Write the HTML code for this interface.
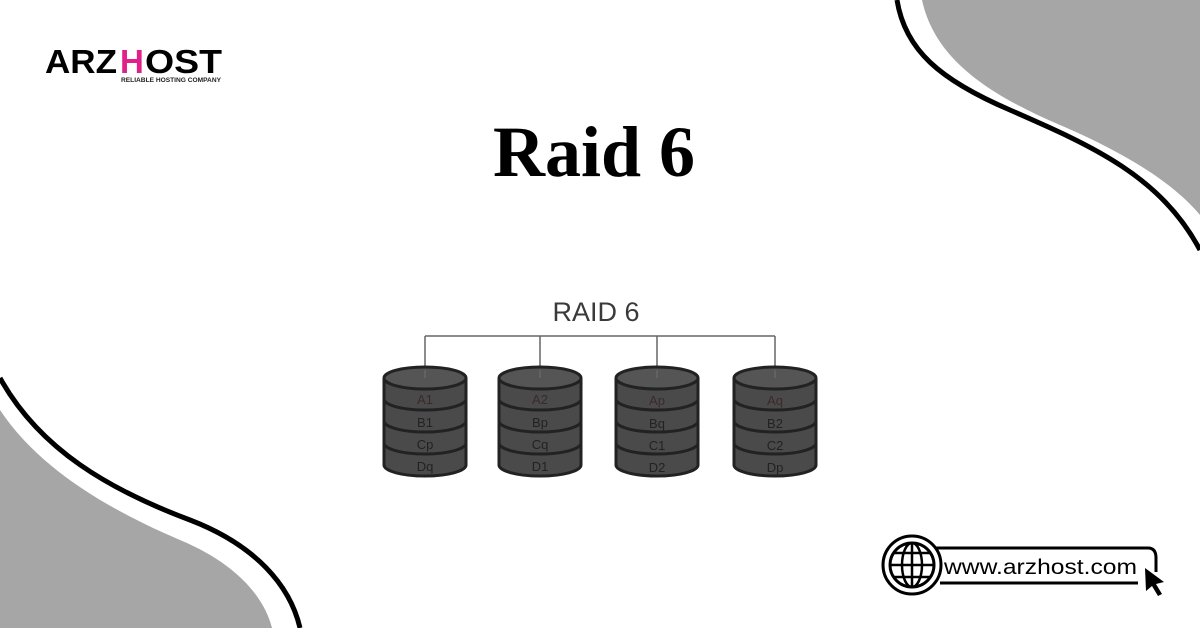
<!DOCTYPE html>
<html><head><style>
body{margin:0;width:1200px;height:628px;background:#fff;overflow:hidden;position:relative;font-family:"Liberation Sans",sans-serif}
</style></head><body>
<svg width="1200" height="628" style="position:absolute;left:0;top:0">
<path d="M922,0 C935,60 990,95 1060,125 C1130,155 1175,185 1200,215 L1200,0 Z" fill="#a6a6a6"/>
<path d="M897,0 C905,50 940,80 1010,110 C1090,145 1160,175 1200,250" fill="none" stroke="#000" stroke-width="5"/>
<path d="M0,410 C40,470 110,510 180,540 C240,565 265,600 272,628 L0,628 Z" fill="#a6a6a6"/>
<path d="M0,378 C40,450 110,490 190,520 C255,545 290,585 300,628" fill="none" stroke="#000" stroke-width="5"/>
<text x="596" y="321" text-anchor="middle" font-size="27" fill="#3a3a3a" font-family="Liberation Sans">RAID 6</text>
<path d="M425,336 H775 M425,336 V378 M540,336 V378 M657,336 V378 M775,336 V378" stroke="#666" stroke-width="1.5" fill="none"/>
<text x="594" y="176" text-anchor="middle" font-size="72" font-weight="bold" font-family="Liberation Serif" fill="#000">Raid 6</text>
<!-- logo -->
<text x="45" y="73" font-size="33" font-weight="bold" font-family="Liberation Sans" fill="#000" textLength="72" lengthAdjust="spacingAndGlyphs">ARZ</text>
<text x="120" y="73" font-size="33" font-weight="bold" font-family="Liberation Sans" fill="#e0218a">H</text>
<text x="145" y="73" font-size="33" font-weight="bold" font-family="Liberation Sans" fill="#000" textLength="77" lengthAdjust="spacingAndGlyphs">OST</text>
<text x="121" y="82" font-size="6.5" font-weight="bold" fill="#222" textLength="100" lengthAdjust="spacingAndGlyphs">RELIABLE HOSTING COMPANY</text>
<!-- url -->
<path d="M915,548 H1148 Q1156,548 1156,558 V572 M940,583 H1138" stroke="#000" stroke-width="3" fill="none"/>
<circle cx="912" cy="565" r="29" fill="#fff" stroke="#000" stroke-width="3"/>
<circle cx="912" cy="565" r="22" fill="none" stroke="#000" stroke-width="3"/>
<ellipse cx="912" cy="565" rx="10" ry="22" fill="none" stroke="#000" stroke-width="2.5"/>
<path d="M890,565 H934 M894,553 H930 M894,577 H930 M912,543 V587" stroke="#000" stroke-width="2.5"/>
<text x="944" y="574" font-size="21" fill="#000" textLength="193" lengthAdjust="spacingAndGlyphs">www.arzhost.com</text>
<path d="M1145,568 L1164,582 L1156,584 L1162,594 L1158,596 L1152,586 L1146,591 Z" fill="#000"/>
</svg>
<svg width="1200" height="628" style="position:absolute;left:0;top:0">
<defs>
<g id="cyl">
<path d="M-41,378 V465 A41,11 0 0 0 41,465 V378" fill="#4a4a4a" stroke="#222" stroke-width="3"/>
<path d="M-41,399 A41,11 0 0 0 41,399 M-41,421 A41,11 0 0 0 41,421 M-41,443 A41,11 0 0 0 41,443" fill="none" stroke="#222" stroke-width="3"/>
<ellipse cx="0" cy="378" rx="41" ry="11" fill="#555" stroke="#222" stroke-width="3"/>
<line x1="0" y1="370" x2="0" y2="378" stroke="#666" stroke-width="1.5"/>
</g>
</defs>
<g font-size="13" fill="#222" text-anchor="middle" font-family="Liberation Sans">
<use href="#cyl" x="425"/><text x="425" y="404" fill="#3a2a2a">A1</text><text x="425" y="427">B1</text><text x="425" y="449">Cp</text><text x="425" y="471">Dq</text>
<use href="#cyl" x="540"/><text x="540" y="404" fill="#3a2a2a">A2</text><text x="540" y="427">Bp</text><text x="540" y="449">Cq</text><text x="540" y="471">D1</text>
<use href="#cyl" x="657"/><text x="657" y="405" fill="#3a2a2a">Ap</text><text x="657" y="428">Bq</text><text x="657" y="450">C1</text><text x="657" y="472">D2</text>
<use href="#cyl" x="775"/><text x="775" y="405" fill="#3a2a2a">Aq</text><text x="775" y="428">B2</text><text x="775" y="450">C2</text><text x="775" y="472">Dp</text>
</g>
</svg>
</body></html>
